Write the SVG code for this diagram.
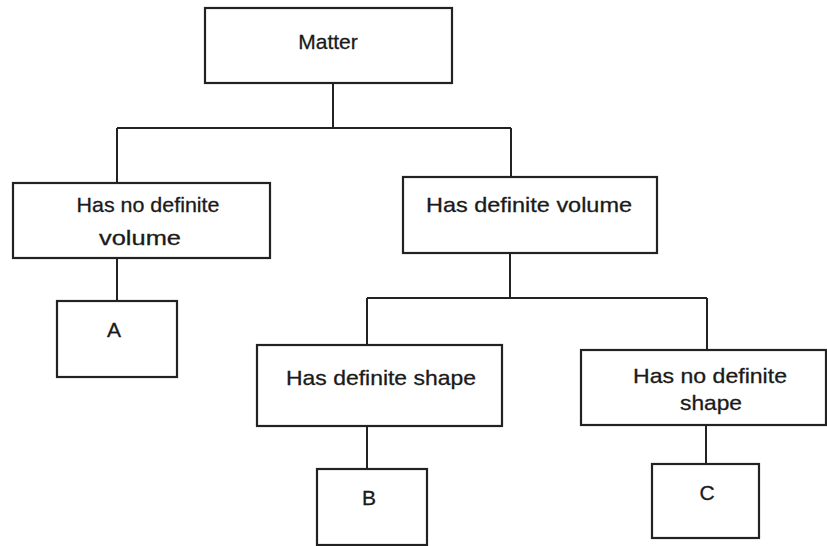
<svg xmlns="http://www.w3.org/2000/svg" width="827" height="546" viewBox="0 0 827 546">
<style>
.box{fill:#fff;stroke:#222;stroke-width:2.2}
.ln{fill:none;stroke:#222;stroke-width:2}
text{font-family:"Liberation Sans",Arial,sans-serif;font-size:21px;fill:#1a1a1a;text-anchor:middle;stroke:#1a1a1a;stroke-width:0.3}
</style>
<rect width="827" height="546" fill="#fff"/>
<g id="connectors">
<path class="ln" d="M333 83V128M117 128H511M117 128V183M511 128V177"/>
<path class="ln" d="M117 258V301"/>
<path class="ln" d="M510 253V298M367 298H707M367 298V345M707 298V350"/>
<path class="ln" d="M367 426V469"/>
<path class="ln" d="M706 425V464"/>
</g>
<g id="matter"><rect class="box" x="205" y="8" width="247" height="75"/><text x="328" y="49" font-size="20">Matter</text></g>
<g id="no-volume"><rect class="box" x="13" y="183" width="257" height="75"/><text x="148" y="212" textLength="143" lengthAdjust="spacingAndGlyphs">Has no definite</text><text x="140" y="245" textLength="82" lengthAdjust="spacingAndGlyphs">volume</text></g>
<g id="volume"><rect class="box" x="403" y="177" width="254" height="76"/><text x="529" y="212" textLength="206" lengthAdjust="spacingAndGlyphs">Has definite volume</text></g>
<g id="a"><rect class="box" x="57" y="301" width="120" height="76"/><text x="114" y="337">A</text></g>
<g id="shape"><rect class="box" x="257" y="345" width="245" height="81"/><text x="381" y="385" textLength="190" lengthAdjust="spacingAndGlyphs">Has definite shape</text></g>
<g id="no-shape"><rect class="box" x="581" y="350" width="245" height="75"/><text x="710" y="383" textLength="154" lengthAdjust="spacingAndGlyphs">Has no definite</text><text x="711" y="410" textLength="62" lengthAdjust="spacingAndGlyphs">shape</text></g>
<g id="b"><rect class="box" x="317" y="469" width="110" height="76"/><text x="369" y="505">B</text></g>
<g id="c"><rect class="box" x="652" y="464" width="107" height="74"/><text x="707" y="500">C</text></g>
</svg>
